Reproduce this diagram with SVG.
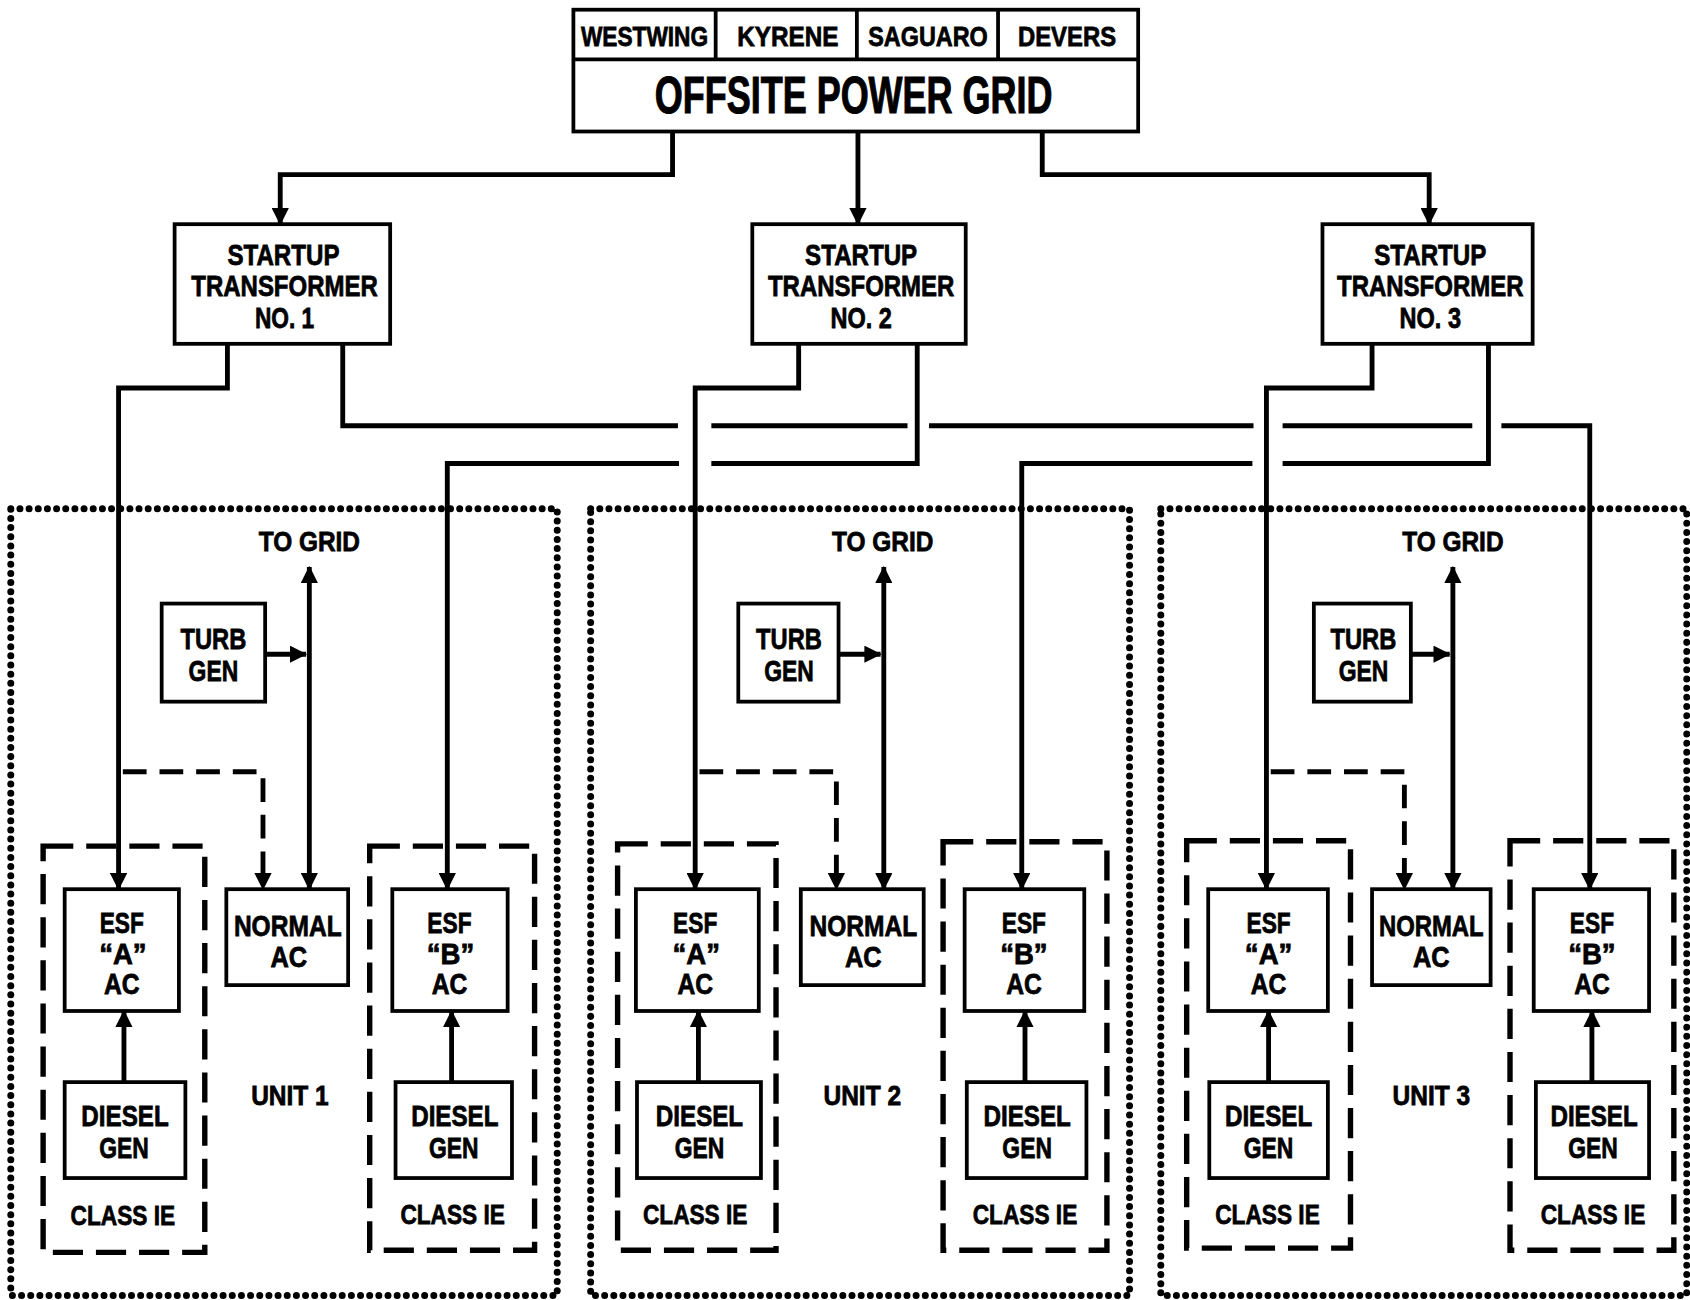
<svg xmlns="http://www.w3.org/2000/svg" width="1690" height="1300" viewBox="0 0 1690 1300">
<defs>
<style>
.bx{fill:#fff;stroke:#000;stroke-width:3.5}
.t{font-family:"Liberation Sans Narrow","Liberation Sans","DejaVu Sans Condensed",sans-serif;font-weight:bold;font-size:27px;text-anchor:middle;fill:#000;stroke:#000;stroke-width:0.7}
.hd{font-size:26px}
.big{font-size:48px;stroke-width:1}
.ln{fill:none;stroke:#000;stroke-width:4.5}
.ds{fill:none;stroke:#000;stroke-width:4.5;stroke-dasharray:22 12}
.cl{fill:none;stroke:#000;stroke-width:5;stroke-dasharray:28 12}
.dot{fill:none;stroke:#000;stroke-width:6.5;stroke-linecap:round;stroke-dasharray:0 8.5}
</style>
<marker id="arr" viewBox="0 0 16 16" refX="15" refY="8" markerWidth="16" markerHeight="16" markerUnits="userSpaceOnUse" orient="auto-start-reverse">
<path d="M0,0 L16,8 L0,16 z" fill="#000"/>
</marker>
</defs>
<rect width="1690" height="1300" fill="#fff"/>
<g transform="scale(1.07781)">
<g id="grid">
<rect class="bx" x="532" y="9" width="524" height="113"/>
<path d="M532,55 H1056 M664,9 V55 M795,9 V55 M926,9 V55" stroke="#000" stroke-width="3.5" fill="none"/>
<text class="t hd" x="598" y="43" textLength="118" lengthAdjust="spacingAndGlyphs">WESTWING</text>
<text class="t hd" x="731" y="43" textLength="94" lengthAdjust="spacingAndGlyphs">KYRENE</text>
<text class="t hd" x="861" y="43" textLength="111" lengthAdjust="spacingAndGlyphs">SAGUARO</text>
<text class="t hd" x="990" y="43" textLength="91" lengthAdjust="spacingAndGlyphs">DEVERS</text>
<text class="t big" x="792" y="105" textLength="369" lengthAdjust="spacingAndGlyphs">OFFSITE POWER GRID</text>
</g>
<g id="stx1">
<rect class="bx" x="162" y="208" width="200" height="111"/>
<text class="t" x="263" y="246" textLength="104" lengthAdjust="spacingAndGlyphs">STARTUP</text>
<text class="t" x="264" y="275" textLength="173" lengthAdjust="spacingAndGlyphs">TRANSFORMER</text>
<text class="t" x="264" y="304" textLength="55" lengthAdjust="spacingAndGlyphs">NO. 1</text>
</g>
<g id="stx2">
<rect class="bx" x="698" y="208" width="198" height="111"/>
<text class="t" x="799" y="246" textLength="104" lengthAdjust="spacingAndGlyphs">STARTUP</text>
<text class="t" x="799" y="275" textLength="173" lengthAdjust="spacingAndGlyphs">TRANSFORMER</text>
<text class="t" x="799" y="304" textLength="57" lengthAdjust="spacingAndGlyphs">NO. 2</text>
</g>
<g id="stx3">
<rect class="bx" x="1227" y="208" width="195" height="111"/>
<text class="t" x="1327" y="246" textLength="104" lengthAdjust="spacingAndGlyphs">STARTUP</text>
<text class="t" x="1327" y="275" textLength="173" lengthAdjust="spacingAndGlyphs">TRANSFORMER</text>
<text class="t" x="1327" y="304" textLength="57" lengthAdjust="spacingAndGlyphs">NO. 3</text>
</g>

<g id="unit1">
<rect class="dot" x="10" y="472" width="507" height="730"/>
<text class="t hd" x="287" y="511" textLength="94" lengthAdjust="spacingAndGlyphs">TO GRID</text>
<text class="t hd" x="269" y="1025" textLength="72" lengthAdjust="spacingAndGlyphs">UNIT 1</text>
<g id="turb1"><rect class="bx" x="150" y="560" width="96" height="91"/>
<text class="t" x="198" y="602" textLength="61" lengthAdjust="spacingAndGlyphs">TURB</text>
<text class="t" x="198" y="632" textLength="46" lengthAdjust="spacingAndGlyphs">GEN</text></g>
<g id="normal1"><rect class="bx" x="210" y="825" width="113" height="89"/>
<text class="t" x="267" y="868" textLength="100" lengthAdjust="spacingAndGlyphs">NORMAL</text>
<text class="t" x="268" y="897" textLength="34" lengthAdjust="spacingAndGlyphs">AC</text></g>
<g id="class1a"><rect class="cl" x="40" y="785" width="150" height="377"/>
<text class="t hd" x="114" y="1137" textLength="97" lengthAdjust="spacingAndGlyphs">CLASS IE</text></g>
<g id="esfa1"><rect class="bx" x="60" y="825" width="106" height="113"/>
<text class="t" x="113" y="866" textLength="41" lengthAdjust="spacingAndGlyphs">ESF</text>
<text class="t" x="114" y="894" textLength="44" lengthAdjust="spacingAndGlyphs">“A”</text>
<text class="t" x="113" y="922" textLength="33" lengthAdjust="spacingAndGlyphs">AC</text></g>
<g id="dga1"><rect class="bx" x="60" y="1004" width="112" height="89"/>
<text class="t" x="116" y="1045" textLength="81" lengthAdjust="spacingAndGlyphs">DIESEL</text>
<text class="t" x="115" y="1074" textLength="46" lengthAdjust="spacingAndGlyphs">GEN</text></g>
<g id="class1b"><rect class="cl" x="343" y="785" width="153" height="375"/>
<text class="t hd" x="420" y="1136" textLength="97" lengthAdjust="spacingAndGlyphs">CLASS IE</text></g>
<g id="esfb1"><rect class="bx" x="364" y="825" width="107" height="113"/>
<text class="t" x="417" y="866" textLength="41" lengthAdjust="spacingAndGlyphs">ESF</text>
<text class="t" x="418" y="894" textLength="44" lengthAdjust="spacingAndGlyphs">“B”</text>
<text class="t" x="417" y="922" textLength="33" lengthAdjust="spacingAndGlyphs">AC</text></g>
<g id="dgb1"><rect class="bx" x="367" y="1004" width="108" height="89"/>
<text class="t" x="422" y="1045" textLength="81" lengthAdjust="spacingAndGlyphs">DIESEL</text>
<text class="t" x="421" y="1074" textLength="46" lengthAdjust="spacingAndGlyphs">GEN</text></g>
</g>

<g id="unit2">
<rect class="dot" x="548" y="472" width="500" height="730"/>
<text class="t hd" x="819" y="511" textLength="94" lengthAdjust="spacingAndGlyphs">TO GRID</text>
<text class="t hd" x="800" y="1025" textLength="72" lengthAdjust="spacingAndGlyphs">UNIT 2</text>
<g id="turb2"><rect class="bx" x="685" y="560" width="93" height="91"/>
<text class="t" x="732" y="602" textLength="61" lengthAdjust="spacingAndGlyphs">TURB</text>
<text class="t" x="732" y="632" textLength="46" lengthAdjust="spacingAndGlyphs">GEN</text></g>
<g id="normal2"><rect class="bx" x="743" y="825" width="114" height="89"/>
<text class="t" x="801" y="868" textLength="100" lengthAdjust="spacingAndGlyphs">NORMAL</text>
<text class="t" x="801" y="897" textLength="34" lengthAdjust="spacingAndGlyphs">AC</text></g>
<g id="class2a"><rect class="cl" x="573" y="783" width="147" height="377"/>
<text class="t hd" x="645" y="1136" textLength="97" lengthAdjust="spacingAndGlyphs">CLASS IE</text></g>
<g id="esfa2"><rect class="bx" x="590" y="825" width="114" height="113"/>
<text class="t" x="645" y="866" textLength="41" lengthAdjust="spacingAndGlyphs">ESF</text>
<text class="t" x="646" y="894" textLength="44" lengthAdjust="spacingAndGlyphs">“A”</text>
<text class="t" x="645" y="922" textLength="33" lengthAdjust="spacingAndGlyphs">AC</text></g>
<g id="dga2"><rect class="bx" x="591" y="1004" width="115" height="89"/>
<text class="t" x="649" y="1045" textLength="81" lengthAdjust="spacingAndGlyphs">DIESEL</text>
<text class="t" x="649" y="1074" textLength="46" lengthAdjust="spacingAndGlyphs">GEN</text></g>
<g id="class2b"><rect class="cl" x="875" y="781" width="152" height="379"/>
<text class="t hd" x="951" y="1136" textLength="97" lengthAdjust="spacingAndGlyphs">CLASS IE</text></g>
<g id="esfb2"><rect class="bx" x="895" y="825" width="111" height="113"/>
<text class="t" x="950" y="866" textLength="41" lengthAdjust="spacingAndGlyphs">ESF</text>
<text class="t" x="950" y="894" textLength="44" lengthAdjust="spacingAndGlyphs">“B”</text>
<text class="t" x="950" y="922" textLength="33" lengthAdjust="spacingAndGlyphs">AC</text></g>
<g id="dgb2"><rect class="bx" x="897" y="1004" width="111" height="89"/>
<text class="t" x="953" y="1045" textLength="81" lengthAdjust="spacingAndGlyphs">DIESEL</text>
<text class="t" x="953" y="1074" textLength="46" lengthAdjust="spacingAndGlyphs">GEN</text></g>
</g>

<g id="unit3">
<rect class="dot" x="1077" y="472" width="488" height="730"/>
<text class="t hd" x="1348" y="511" textLength="94" lengthAdjust="spacingAndGlyphs">TO GRID</text>
<text class="t hd" x="1328" y="1025" textLength="72" lengthAdjust="spacingAndGlyphs">UNIT 3</text>
<g id="turb3"><rect class="bx" x="1219" y="560" width="90" height="91"/>
<text class="t" x="1265" y="602" textLength="61" lengthAdjust="spacingAndGlyphs">TURB</text>
<text class="t" x="1265" y="632" textLength="46" lengthAdjust="spacingAndGlyphs">GEN</text></g>
<g id="normal3"><rect class="bx" x="1273" y="825" width="110" height="89"/>
<text class="t" x="1328" y="868" textLength="97" lengthAdjust="spacingAndGlyphs">NORMAL</text>
<text class="t" x="1328" y="897" textLength="34" lengthAdjust="spacingAndGlyphs">AC</text></g>
<g id="class3a"><rect class="cl" x="1101" y="780" width="152" height="378"/>
<text class="t hd" x="1176" y="1136" textLength="97" lengthAdjust="spacingAndGlyphs">CLASS IE</text></g>
<g id="esfa3"><rect class="bx" x="1121" y="825" width="111" height="113"/>
<text class="t" x="1177" y="866" textLength="41" lengthAdjust="spacingAndGlyphs">ESF</text>
<text class="t" x="1177" y="894" textLength="44" lengthAdjust="spacingAndGlyphs">“A”</text>
<text class="t" x="1177" y="922" textLength="33" lengthAdjust="spacingAndGlyphs">AC</text></g>
<g id="dga3"><rect class="bx" x="1122" y="1004" width="110" height="89"/>
<text class="t" x="1177" y="1045" textLength="81" lengthAdjust="spacingAndGlyphs">DIESEL</text>
<text class="t" x="1177" y="1074" textLength="46" lengthAdjust="spacingAndGlyphs">GEN</text></g>
<g id="class3b"><rect class="cl" x="1401" y="780" width="152" height="380"/>
<text class="t hd" x="1478" y="1136" textLength="97" lengthAdjust="spacingAndGlyphs">CLASS IE</text></g>
<g id="esfb3"><rect class="bx" x="1423" y="825" width="107" height="113"/>
<text class="t" x="1477" y="866" textLength="41" lengthAdjust="spacingAndGlyphs">ESF</text>
<text class="t" x="1477" y="894" textLength="44" lengthAdjust="spacingAndGlyphs">“B”</text>
<text class="t" x="1477" y="922" textLength="33" lengthAdjust="spacingAndGlyphs">AC</text></g>
<g id="dgb3"><rect class="bx" x="1425" y="1004" width="105" height="89"/>
<text class="t" x="1479" y="1045" textLength="81" lengthAdjust="spacingAndGlyphs">DIESEL</text>
<text class="t" x="1478" y="1074" textLength="46" lengthAdjust="spacingAndGlyphs">GEN</text></g>
</g>

<g id="connectors">
<path class="ln" d="M624,122 V162 H260 V208" marker-end="url(#arr)"/>
<path class="ln" d="M796,122 V208" marker-end="url(#arr)"/>
<path class="ln" d="M967,122 V162 H1326 V208" marker-end="url(#arr)"/>

<path class="ln" d="M211,319 V360 H110 V825" marker-end="url(#arr)"/>
<path class="ln" d="M318,319 V395 H629 M660,395 H842 M862,395 H1163 M1190,395 H1366"/>
<path class="ln" d="M1393,395 H1475 V825" marker-end="url(#arr)"/>
<path class="ln" d="M741,319 V360 H645 V825" marker-end="url(#arr)"/>
<path class="ln" d="M851,319 V430 H660"/>
<path class="ln" d="M630,430 H415 V825" marker-end="url(#arr)"/>
<path class="ln" d="M1273,319 V360 H1175 V825" marker-end="url(#arr)"/>
<path class="ln" d="M1381,319 V430 H1190"/>
<path class="ln" d="M1162,430 H948 V825" marker-end="url(#arr)"/>

<path class="ln" d="M287,825 V526" marker-start="url(#arr)" marker-end="url(#arr)"/>
<path class="ln" d="M246,607 H284" marker-end="url(#arr)"/>
<path class="ds" d="M114,716 H244 V825" marker-end="url(#arr)"/>
<path class="ln" d="M115,1004 V938" marker-end="url(#arr)"/>
<path class="ln" d="M419,1004 V938" marker-end="url(#arr)"/>

<path class="ln" d="M820,825 V526" marker-start="url(#arr)" marker-end="url(#arr)"/>
<path class="ln" d="M778,607 H817" marker-end="url(#arr)"/>
<path class="ds" d="M649,716 H776 V825" marker-end="url(#arr)"/>
<path class="ln" d="M648,1004 V938" marker-end="url(#arr)"/>
<path class="ln" d="M951,1004 V938" marker-end="url(#arr)"/>

<path class="ln" d="M1348,825 V526" marker-start="url(#arr)" marker-end="url(#arr)"/>
<path class="ln" d="M1309,607 H1345" marker-end="url(#arr)"/>
<path class="ds" d="M1179,716 H1303 V825" marker-end="url(#arr)"/>
<path class="ln" d="M1177,1004 V938" marker-end="url(#arr)"/>
<path class="ln" d="M1477,1004 V938" marker-end="url(#arr)"/>
</g>
</g>
</svg>
